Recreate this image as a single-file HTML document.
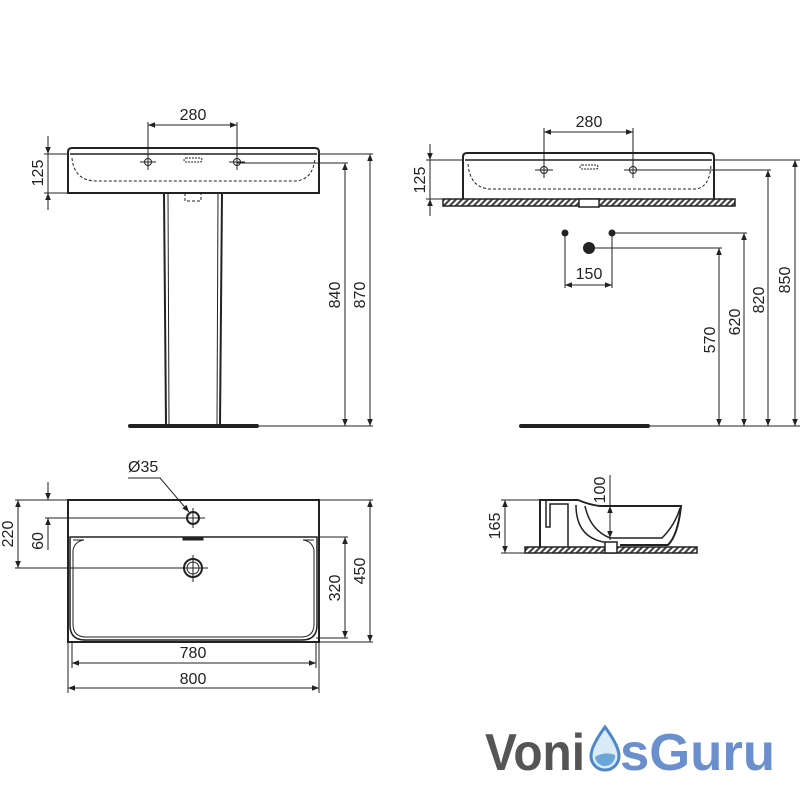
<!DOCTYPE html>
<html><head><meta charset="utf-8"><style>
html,body{margin:0;padding:0;background:#fff;}
svg{display:block;}
text{font-family:"Liberation Sans",sans-serif;font-size:16px;fill:#222;}
</style></head><body>
<svg width="800" height="800" viewBox="0 0 800 800" xmlns="http://www.w3.org/2000/svg">
<defs>
<marker id="a" viewBox="0 0 10 10" refX="10" refY="5" markerWidth="9" markerHeight="7" orient="auto-start-reverse" markerUnits="userSpaceOnUse"><path d="M0,1 L10,5 L0,9 z" fill="#222"/></marker>
<pattern id="h" width="6" height="8" patternUnits="userSpaceOnUse" patternTransform="skewX(-45)"><rect width="6" height="8" fill="#fff"/><rect width="3" height="8" fill="#444"/></pattern>
</defs>
<g stroke="#222" fill="none" stroke-width="1">
<path d="M68,193 V152 Q68,148 72,148 H315 Q319,148 319,152 V193 Z" stroke-width="2"/>
<line x1="70" y1="154" x2="317" y2="154" stroke-width="1.5"/>
<path d="M72,158 Q74,180 95,181 H295 Q313,180 315,158" stroke-dasharray="3,2"/>
<rect x="184" y="158" width="18" height="4" rx="2" stroke-dasharray="2,1"/>
<circle cx="148" cy="162" r="3.5"/><line x1="140" y1="162" x2="156" y2="162"/><line x1="148" y1="156" x2="148" y2="168"/>
<circle cx="237" cy="162" r="3.5"/><line x1="229" y1="162" x2="245" y2="162"/>
<rect x="185" y="193" width="16" height="8" stroke-dasharray="3,2"/>
<line x1="164" y1="193" x2="166" y2="425" stroke-width="2"/><line x1="168" y1="193" x2="169" y2="425"/>
<line x1="218" y1="193" x2="217" y2="425"/><line x1="222" y1="193" x2="220" y2="425" stroke-width="2"/>
<line x1="130" y1="426" x2="257" y2="426" stroke-width="4" stroke-linecap="round"/>
<line x1="148" y1="122" x2="148" y2="170"/><line x1="237" y1="122" x2="237" y2="170"/>
<line x1="148" y1="125" x2="237" y2="125" marker-start="url(#a)" marker-end="url(#a)"/>
<line x1="44" y1="154" x2="68" y2="154"/><line x1="44" y1="193" x2="68" y2="193"/>
<line x1="48" y1="136" x2="48" y2="154" marker-end="url(#a)"/><line x1="48" y1="210" x2="48" y2="193" marker-end="url(#a)"/>
<line x1="48" y1="154" x2="48" y2="193"/>
<line x1="237" y1="163" x2="348" y2="163"/><line x1="319" y1="154" x2="373" y2="154"/><line x1="257" y1="426" x2="373" y2="426"/>
<line x1="345" y1="163" x2="345" y2="426" marker-start="url(#a)" marker-end="url(#a)"/>
<line x1="370" y1="154" x2="370" y2="426" marker-start="url(#a)" marker-end="url(#a)"/>

<path d="M463,199 V157 Q463,153 467,153 H710 Q714,153 714,157 V199" stroke-width="2"/>
<line x1="465" y1="160" x2="712" y2="160" stroke-width="1.5"/>
<path d="M468,164 Q470,188 490,189 H695 Q710,188 711,164" stroke-dasharray="3,2"/>
<rect x="580" y="165" width="18" height="4" rx="2" stroke-dasharray="2,1"/>
<circle cx="544" cy="170" r="3.5"/><line x1="535" y1="170" x2="553" y2="170"/>
<circle cx="633" cy="170" r="3.5"/><line x1="624" y1="170" x2="642" y2="170"/>
<rect x="443" y="199" width="292" height="7" fill="url(#h)" stroke-width="1.5"/>
<rect x="579" y="199" width="20" height="8" fill="#fff" stroke-width="1.5"/>
<line x1="544" y1="128" x2="544" y2="178"/><line x1="633" y1="128" x2="633" y2="178"/>
<line x1="544" y1="132" x2="633" y2="132" marker-start="url(#a)" marker-end="url(#a)"/>
<line x1="426" y1="160" x2="463" y2="160"/><line x1="426" y1="199" x2="443" y2="199"/>
<line x1="430" y1="144" x2="430" y2="160" marker-end="url(#a)"/><line x1="430" y1="216" x2="430" y2="199" marker-end="url(#a)"/>
<line x1="430" y1="160" x2="430" y2="199"/>
<circle cx="565" cy="233" r="3" fill="#222"/><circle cx="612" cy="233" r="3" fill="#222"/><circle cx="589" cy="248" r="5.5" fill="#222"/>
<line x1="565" y1="233" x2="565" y2="288"/><line x1="612" y1="233" x2="612" y2="288"/>
<line x1="565" y1="285" x2="612" y2="285" marker-start="url(#a)" marker-end="url(#a)"/>
<line x1="612" y1="233" x2="747" y2="233"/><line x1="595" y1="248" x2="722" y2="248"/>
<line x1="633" y1="170" x2="771" y2="170"/><line x1="714" y1="160" x2="800" y2="160"/>
<line x1="648" y1="426" x2="800" y2="426"/>
<line x1="521" y1="426" x2="648" y2="426" stroke-width="4" stroke-linecap="round"/>
<line x1="719" y1="248" x2="719" y2="426" marker-start="url(#a)" marker-end="url(#a)"/>
<line x1="744" y1="233" x2="744" y2="426" marker-start="url(#a)" marker-end="url(#a)"/>
<line x1="768" y1="170" x2="768" y2="426" marker-start="url(#a)" marker-end="url(#a)"/>
<line x1="795" y1="160" x2="795" y2="426" marker-start="url(#a)" marker-end="url(#a)"/>

<rect x="68" y="500" width="251" height="142" stroke-width="2"/>
<path d="M70,537 H317 V625 Q317,640 302,640 H85 Q70,640 70,625 Z" stroke-width="1.5"/>
<path d="M73,540 H84 Q75,541 73,550 V624 Q73,637 86,637 H301 Q314,637 314,624 V550 Q312,541 303,540 H314"/>
<rect x="183" y="537" width="20" height="3" fill="#222"/>
<circle cx="193" cy="518" r="6" stroke-width="2"/><line x1="181" y1="518" x2="205" y2="518"/><line x1="193" y1="508" x2="193" y2="528"/>
<circle cx="193" cy="568" r="9" stroke-width="2"/><circle cx="193" cy="568" r="6"/><line x1="180" y1="568" x2="208" y2="568"/><line x1="193" y1="555" x2="193" y2="582"/>
<polyline points="128,478 160,478 189,512" marker-end="url(#a)"/>
<line x1="15" y1="500" x2="68" y2="500"/><line x1="45" y1="518" x2="200" y2="518"/><line x1="15" y1="568" x2="205" y2="568"/>
<line x1="18" y1="500" x2="18" y2="568" marker-start="url(#a)" marker-end="url(#a)"/>
<line x1="48" y1="482" x2="48" y2="500" marker-end="url(#a)"/><line x1="48" y1="550" x2="48" y2="518" marker-end="url(#a)"/>
<line x1="319" y1="537" x2="348" y2="537"/><line x1="316" y1="638" x2="348" y2="638"/><line x1="319" y1="642" x2="373" y2="642"/><line x1="319" y1="500" x2="373" y2="500"/>
<line x1="345" y1="537" x2="345" y2="638" marker-start="url(#a)" marker-end="url(#a)"/>
<line x1="370" y1="500" x2="370" y2="642" marker-start="url(#a)" marker-end="url(#a)"/>
<line x1="72" y1="642" x2="72" y2="668"/><line x1="316" y1="642" x2="316" y2="668"/>
<line x1="68" y1="642" x2="68" y2="693"/><line x1="319" y1="642" x2="319" y2="693"/>
<line x1="72" y1="663" x2="316" y2="663" marker-start="url(#a)" marker-end="url(#a)"/>
<line x1="68" y1="688" x2="319" y2="688" marker-start="url(#a)" marker-end="url(#a)"/>

<rect x="525" y="547" width="172" height="6" fill="url(#h)" stroke-width="1.5"/>
<path d="M540,547 V500 H578 Q590,505 600,506 H681 Q678,535 668,545 H620" stroke-width="2"/>
<path d="M546,500 V527 H550 V504 H568 V547" stroke-width="1.5"/>
<path d="M576,505 Q576,540 610,543 V553" stroke-width="1.5"/>
<path d="M585,506 Q590,530 610,538 H662 Q675,525 680,508" stroke-width="1.5"/>
<rect x="605" y="542" width="12" height="11" fill="#fff" stroke-width="1.5"/>
<line x1="501" y1="500" x2="540" y2="500"/><line x1="501" y1="553" x2="525" y2="553"/>
<line x1="505" y1="500" x2="505" y2="553" marker-start="url(#a)" marker-end="url(#a)"/>
<line x1="610" y1="475" x2="610" y2="540"/>
<line x1="610" y1="506" x2="610" y2="538" marker-start="url(#a)" marker-end="url(#a)"/>
</g>

<g>
<text x="193" y="120" text-anchor="middle">280</text>
<text x="589" y="127" text-anchor="middle">280</text>
<text x="589" y="279" text-anchor="middle">150</text>
<text x="193" y="658" text-anchor="middle">780</text>
<text x="193" y="684" text-anchor="middle">800</text>
<text x="128" y="472">Ø35</text>
<text transform="translate(43,173) rotate(-90)" text-anchor="middle">125</text>
<text transform="translate(425,180) rotate(-90)" text-anchor="middle">125</text>
<text transform="translate(340,295) rotate(-90)" text-anchor="middle">840</text>
<text transform="translate(365,295) rotate(-90)" text-anchor="middle">870</text>
<text transform="translate(715,340) rotate(-90)" text-anchor="middle">570</text>
<text transform="translate(740,322) rotate(-90)" text-anchor="middle">620</text>
<text transform="translate(764,300) rotate(-90)" text-anchor="middle">820</text>
<text transform="translate(790,280) rotate(-90)" text-anchor="middle">850</text>
<text transform="translate(13,534) rotate(-90)" text-anchor="middle">220</text>
<text transform="translate(43,541) rotate(-90)" text-anchor="middle">60</text>
<text transform="translate(340,588) rotate(-90)" text-anchor="middle">320</text>
<text transform="translate(365,571) rotate(-90)" text-anchor="middle">450</text>
<text transform="translate(500,526) rotate(-90)" text-anchor="middle">165</text>
<text transform="translate(605,490) rotate(-90)" text-anchor="middle">100</text>
</g>

<text x="485" y="770" style="font-size:52px;font-weight:bold;fill:#555;" textLength="100" lengthAdjust="spacingAndGlyphs">Voni</text>
<path d="M605,727 Q591,746 591,756 A14,14 0 0 0 619,756 Q619,746 605,727 Z" fill="#d8ebf7" stroke="#4f86c6" stroke-width="3"/>
<path d="M595,757 Q605,751 615,755 A10,10 0 0 1 595,757 Z" fill="#6aa6d8"/>
<text x="620" y="770" style="font-size:52px;font-weight:bold;fill:#6b8fcc;" textLength="155" lengthAdjust="spacingAndGlyphs">sGuru</text>
</svg>
</body></html>
